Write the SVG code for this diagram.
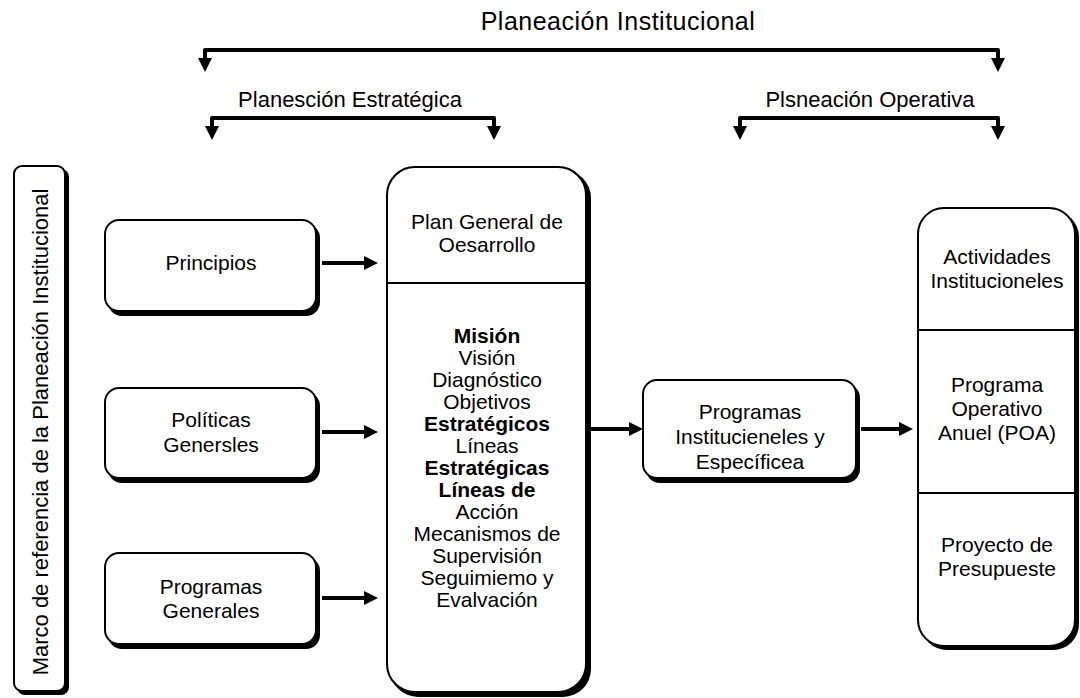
<svg xmlns="http://www.w3.org/2000/svg" width="1080" height="698" viewBox="0 0 1080 698">
  <defs>
    <style>
      .bg { fill: #fff; }
      .shadow { fill: #000; }
      .box { fill: #fff; stroke: #000; stroke-width: 2; }
      .div { stroke: #000; stroke-width: 2; }
      .t { font-family: "Liberation Sans", Arial, Helvetica, sans-serif; font-size: 21px; fill: #000; text-anchor: middle; }
      .h { font-size: 22px; }
      .b { font-weight: bold; }
      .wire { fill: none; stroke: #000; stroke-width: 4; stroke-linecap: butt; stroke-linejoin: round; }
    </style>
    <marker id="head" viewBox="0 0 14 14" markerWidth="14" markerHeight="14" refX="2" refY="7" orient="auto-start-reverse" markerUnits="userSpaceOnUse">
      <path d="M0,0 L14,7 L0,14 z" fill="#000"/>
    </marker>
  </defs>

  <rect class="bg" x="0" y="0" width="1080" height="698"/>

  <!-- headings -->
  <text class="t" x="618" y="30" style="font-size:25px;letter-spacing:0.5px">Planeación Institucional</text>
  <text class="t h" x="350" y="107">Planesción Estratégica</text>
  <text class="t h" x="870" y="107">Plsneación Operativa</text>

  <!-- side frame -->
  <g id="marco">
    <rect class="shadow" x="17" y="169" width="52" height="526" rx="8"/>
    <rect class="box" x="14" y="166" width="51" height="525" rx="8"/>
    <text class="t h" transform="translate(48,432) rotate(-90)">Marco de referencia de la Planeación Institucional</text>
  </g>

  <!-- left column -->
  <g id="principios">
    <rect class="shadow" x="108" y="224" width="212" height="92" rx="14"/>
    <rect class="box" x="105" y="220" width="211" height="91" rx="14"/>
    <text class="t" x="211" y="270">Principios</text>
  </g>
  <g id="politicas">
    <rect class="shadow" x="108" y="392" width="212" height="91" rx="14"/>
    <rect class="box" x="105" y="388" width="211" height="90" rx="14"/>
    <text class="t" x="211" y="427">Políticas</text>
    <text class="t" x="211" y="452">Genersles</text>
  </g>
  <g id="programas-generales">
    <rect class="shadow" x="108" y="557" width="212" height="92" rx="14"/>
    <rect class="box" x="105" y="553" width="211" height="91" rx="14"/>
    <text class="t" x="211" y="594">Programas</text>
    <text class="t" x="211" y="618">Generales</text>
  </g>

  <!-- plan general -->
  <g id="plan-general">
    <rect class="shadow" x="390" y="170" width="201" height="527" rx="28"/>
    <rect class="box" x="387" y="167" width="199" height="525" rx="28"/>
    <line class="div" x1="387" y1="283" x2="586" y2="283"/>
    <text class="t" x="487" y="229">Plan General de</text>
    <text class="t" x="487" y="252">Oesarrollo</text>
    <text class="t b" x="487" y="343">Misión</text>
    <text class="t" x="487" y="365">Visión</text>
    <text class="t" x="487" y="387">Diagnóstico</text>
    <text class="t" x="487" y="409">Objetivos</text>
    <text class="t b" x="487" y="431">Estratégicos</text>
    <text class="t" x="487" y="453">Líneas</text>
    <text class="t b" x="487" y="475">Estratégicas</text>
    <text class="t b" x="487" y="497">Líneas de</text>
    <text class="t" x="487" y="519">Acción</text>
    <text class="t" x="487" y="541">Mecanismos de</text>
    <text class="t" x="487" y="563">Supervisión</text>
    <text class="t" x="487" y="585">Seguimiemo y</text>
    <text class="t" x="487" y="607">Evalvación</text>
  </g>

  <!-- institutional programs -->
  <g id="programas-institucionales">
    <rect class="shadow" x="646" y="384" width="214" height="99" rx="14"/>
    <rect class="box" x="643" y="380" width="213" height="98" rx="14"/>
    <text class="t" x="750" y="419">Programas</text>
    <text class="t" x="750" y="444">Institucieneles y</text>
    <text class="t" x="750" y="469">Especíﬁcea</text>
  </g>

  <!-- operational column -->
  <g id="operativo">
    <rect class="shadow" x="921" y="211" width="158" height="439" rx="26"/>
    <rect class="box" x="918" y="208" width="157" height="438" rx="26"/>
    <line class="div" x1="918" y1="330" x2="1075" y2="330"/>
    <line class="div" x1="918" y1="493" x2="1075" y2="493"/>
    <text class="t" x="997" y="264">Actividades</text>
    <text class="t" x="997" y="288">Institucioneles</text>
    <text class="t" x="997" y="392">Programa</text>
    <text class="t" x="997" y="416">Operativo</text>
    <text class="t" x="997" y="440">Anuel (POA)</text>
    <text class="t" x="997" y="552">Proyecto de</text>
    <text class="t" x="997" y="576">Presupueste</text>
  </g>

  <!-- connectors -->
  <g id="connectors">
    <path class="wire" d="M205,60 L205,50 L998,50 L998,60" marker-start="url(#head)" marker-end="url(#head)"/>
    <path class="wire" d="M212,128 L212,118 L494,118 L494,128" marker-start="url(#head)" marker-end="url(#head)"/>
    <path class="wire" d="M740,128 L740,118 L998,118 L998,128" marker-start="url(#head)" marker-end="url(#head)"/>
    <path class="wire" d="M322,263 L366,263" marker-end="url(#head)"/>
    <path class="wire" d="M322,432 L366,432" marker-end="url(#head)"/>
    <path class="wire" d="M322,598 L366,598" marker-end="url(#head)"/>
    <path class="wire" d="M590,429 L631,429" marker-end="url(#head)"/>
    <path class="wire" d="M861,429 L901,429" marker-end="url(#head)"/>
  </g>
</svg>
